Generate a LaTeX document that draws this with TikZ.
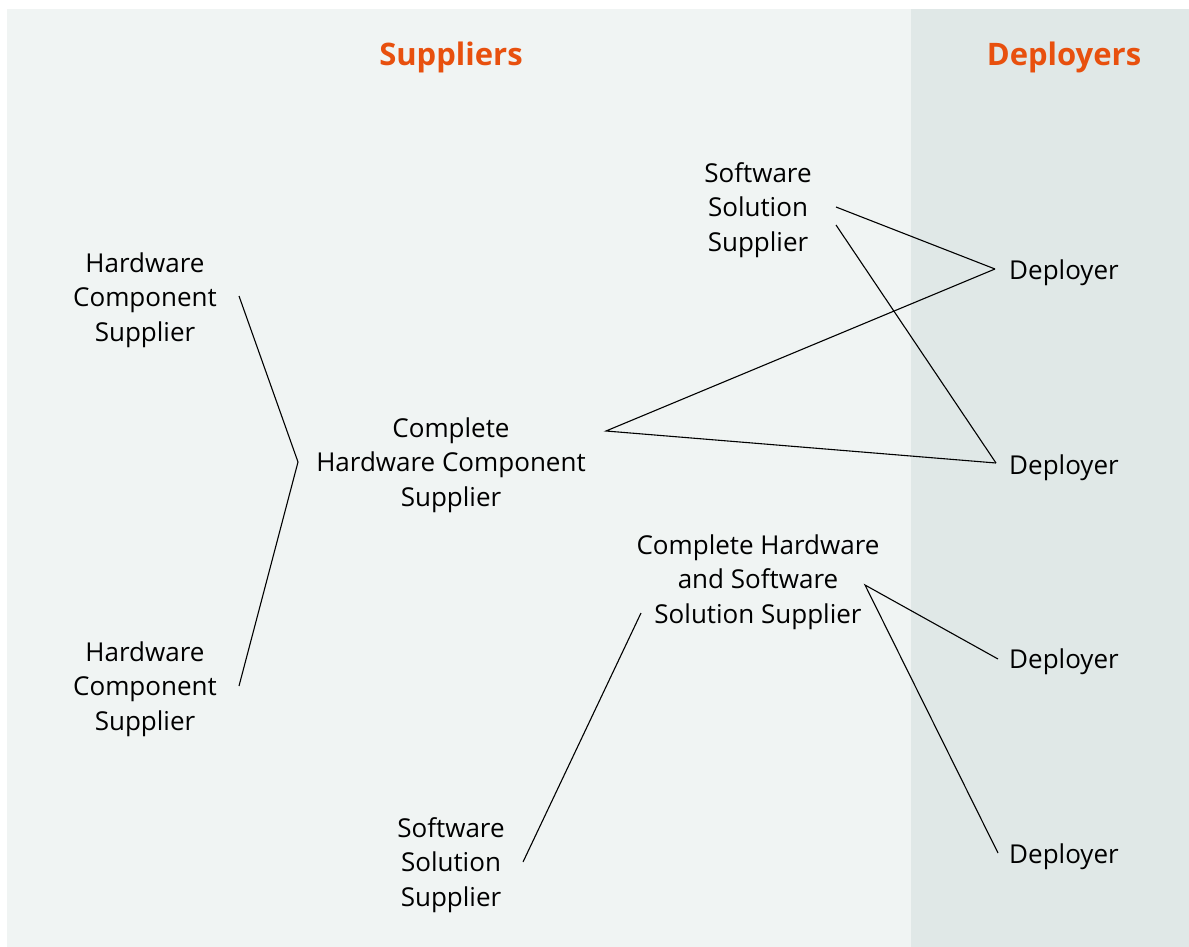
\documentclass[tikz,border=0pt]{standalone}
\usepackage{fontspec}
\setmainfont{Open Sans}
\definecolor{panelA}{HTML}{F0F4F3}
\definecolor{panelB}{HTML}{E0E8E7}
\definecolor{heading}{HTML}{E8500E}
\tikzset{
  label/.style={align=center, font=\fontsize{26}{34.5}\selectfont, text=black, inner sep=0pt},
  title/.style={font=\fontsize{31}{36}\selectfont\bfseries, text=heading, inner sep=0pt},
  link/.style={draw=black, line width=1.1pt},
}
\begin{document}
\begin{tikzpicture}[x=1pt, y=-1pt]
  % canvas and the two column panels
  \useasboundingbox (0,0) rectangle (1189,947);
  \fill[white] (0,0) rectangle (1189,947);
  \fill[panelA] (7,9) rectangle (911,947);
  \fill[panelB] (911,9) rectangle (1189,947);

  % column headings
  \node[title] (supp) at (451,57) {Suppliers};
  \node[title] (depl) at (1064,57) {Deployers};

  % supplier nodes
  \node[label] (hcs1) at (145,300) {Hardware\\Component\\Supplier};
  \node[label] (hcs2) at (145,689) {Hardware\\Component\\Supplier};
  \node[label] (chcs) at (451,465) {Complete\\Hardware Component\\Supplier};
  \node[label] (sss1) at (758,210) {Software\\Solution\\Supplier};
  \node[label] (chss) at (758,582) {Complete Hardware\\and Software\\Solution Supplier};
  \node[label] (sss2) at (451,865) {Software\\Solution\\Supplier};

  % deployer nodes
  \node[label, anchor=west] (d1) at (1009,273) {Deployer};
  \node[label, anchor=west] (d2) at (1009,468) {Deployer};
  \node[label, anchor=west] (d3) at (1009,662) {Deployer};
  \node[label, anchor=west] (d4) at (1009,857) {Deployer};

  % connection points beside each node
  \coordinate (hcs1 out) at (239,296);
  \coordinate (hcs2 out) at (239,686);
  \coordinate (chcs in)  at (298,462);
  \coordinate (chcs out) at (606,431);
  \coordinate (sss1 outA) at (836,207);
  \coordinate (sss1 outB) at (836,225);
  \coordinate (chss in)  at (641,613);
  \coordinate (chss out) at (865,585);
  \coordinate (sss2 out) at (523,862);
  \coordinate (d1 in) at (995,269);
  \coordinate (d2 in) at (996,463);
  \coordinate (d3 in) at (998,659);
  \coordinate (d4 in) at (998,853);

  % connectors
  \draw[link] (hcs1 out) -- (chcs in) -- (hcs2 out);
  \draw[link] (d1 in) -- (chcs out) -- (d2 in);
  \draw[link] (sss1 outA) -- (d1 in);
  \draw[link] (sss1 outB) -- (d2 in);
  \draw[link] (sss2 out) -- (chss in);
  \draw[link] (d3 in) -- (chss out) -- (d4 in);
\end{tikzpicture}
\end{document}
